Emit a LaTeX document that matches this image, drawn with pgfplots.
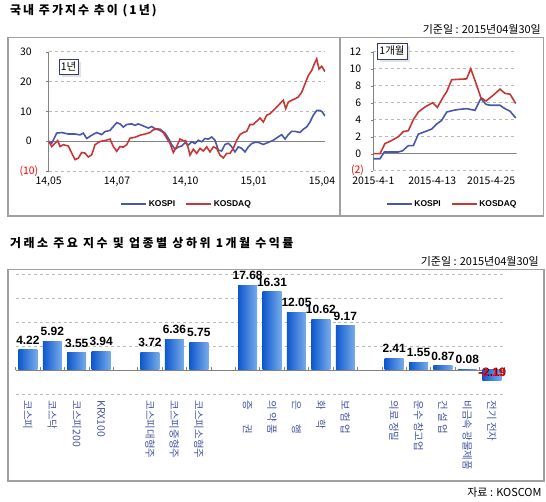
\documentclass[border=0pt]{standalone}
\usepackage{fontspec}
\setmainfont{Noto Sans CJK KR}
\newfontfamily\titlefont[LetterSpace=17]{Noto Sans CJK KR}
\newfontfamily\titlefontb[LetterSpace=21]{Noto Sans CJK KR}
\newfontfamily\lab{Liberation Sans}
\usepackage{pgfplots}
\pgfplotsset{compat=1.18}
\usetikzlibrary{shadows}
\definecolor{kblue}{RGB}{72,88,168}
\definecolor{kred}{RGB}{200,55,55}
\definecolor{boxgray}{RGB}{160,160,160}
\definecolor{gridgray}{RGB}{185,185,185}
\definecolor{axgray}{RGB}{130,130,130}
\definecolor{catblue}{RGB}{70,85,165}
\definecolor{barL}{RGB}{14,88,206}
\definecolor{barR}{RGB}{120,172,234}
\definecolor{navy}{RGB}{50,60,110}
\pgfplotsset{
  lineax/.style={
    scale only axis, anchor=south west,
    /pgf/number format/assume math mode=true,
    tick label style={font=\fontsize{10.5}{12}\selectfont},
    axis lines=left, axis line style={-, draw=axgray, line width=0.9bp},
    x axis line style={draw=none},
    xtick style={draw=none},
    ytick style={draw=axgray},
    major tick length=2.5bp, tick align=outside,
    ymajorgrids, major grid style={dashed, gridgray, line width=0.7bp},
    legend columns=2,
    legend style={draw=none, fill=none, anchor=center,
      font=\lab\bfseries\fontsize{8.5}{10}\selectfont,
      /tikz/every even column/.append style={column sep=8bp}},
    legend image code/.code={\draw[##1] (0bp,0bp) -- (25bp,0bp);},
  },
  mybar/.style={ybar, bar width=19bp, draw=none, left color=barL, right color=barR, forget plot},
}
\begin{document}
\begin{tikzpicture}
\path[use as bounding box, fill=white] (0,0) rectangle (546bp,502bp);
% frames
\draw[boxgray, line width=1.4bp] (8bp,286bp) rectangle (543.5bp,464.7bp);
\draw[boxgray, line width=1.4bp] (340bp,286bp) -- (340bp,464.7bp);
\draw[boxgray, line width=1.4bp] (8bp,21bp) rectangle (544bp,232.7bp);
% titles
\node[anchor=west, inner sep=0pt, font=\titlefont\bfseries\fontsize{12}{14}\selectfont] at (10bp,491bp) {국내 주가지수 추이 (1년)};
\node[anchor=east, inner sep=0pt, font=\fontsize{11}{13}\selectfont] at (541bp,473bp) {기준일 : 2015년04월30일};
\node[anchor=west, inner sep=0pt, font=\titlefontb\bfseries\fontsize{12}{14}\selectfont] at (10bp,259bp) {거래소 주요 지수 및 업종별 상하위 1개월 수익률};
\node[anchor=east, inner sep=0pt, font=\fontsize{11}{13}\selectfont] at (539bp,240.3bp) {기준일 : 2015년04월30일};
\node[anchor=east, inner sep=0pt, font=\fontsize{11}{13}\selectfont] at (541.7bp,9.3bp) {자료 : KOSCOM};

% ---------- 1 year ----------
\begin{axis}[lineax,
  at={(48.7bp,331bp)}, width=276.3bp, height=119.3bp,
  xmin=0, xmax=276.3, ymin=-10, ymax=30,
  xtick={0,68.3,136.6,205,273.3},
  xticklabels={14{,}05,14{,}07,14{,}10,15{,}01,15{,}04},
  ytick={0,10,20,30},
  yticklabel style={xshift=-11bp},
  extra y ticks={-10}, extra y tick labels={(10)},
  extra y tick style={grid=major, yticklabel style={text=red, xshift=6.6bp}},
  legend style={at={(0.499,-0.277)}},
]
\draw[axgray, line width=0.9bp] (axis cs:0,0) -- (axis cs:276.3,0);
\addplot[kblue, line width=1.6bp] coordinates {
(0,0) (3.0,-0.7) (8.0,2.7) (13,2.9) (19.6,2.4) (26.3,2.4) (31.3,2.1) (34.6,2.7)
(38,0.9) (43,2.0) (48,2.9) (53,2.2) (56.3,3.2) (61.3,3.6) (64.6,4.9) (68,6.2)
(71.3,5.8) (74.6,4.7) (78,5.6) (83,5.8) (86.3,5.3) (89.6,5.8) (94.6,5.1) (99.6,4.4)
(103,4.9) (106.3,4.2) (111.3,4.0) (116.3,2.7) (119.6,1.0) (123,-1.2) (126.3,-2.7)
(129.6,-2.0) (133,-1.6) (136.3,-0.5) (139.6,-1.3) (143,-0.2) (146.3,-0.8) (149.6,0.3)
(153,-0.2) (156.3,0.9) (159.6,0.7) (163,1.4) (166.3,0.3) (169.6,-3.0) (173,-3.3)
(176.3,-1.1) (179.6,-0.7) (183,-1.9) (186.3,-3.6) (189.6,-1.9) (193,-2.4) (196.3,-3.6)
(199.6,-1.9) (203,-0.8) (206.3,-0.4) (209.6,-0.4) (214.6,-1.1) (219.6,-0.4) (224.6,0.3)
(228,1.1) (233,2.2) (236.3,0.7) (239.6,2.2) (243,3.3) (246.3,3.3) (251.3,2.9)
(254.6,4.0) (258,4.8) (261.3,6.4) (264.6,8.7) (268,10.3) (271.3,10.3) (273.6,9.8) (276.3,8.4)
};
\addlegendentry{KOSPI}
\addplot[kred, line width=1.6bp] coordinates {
(0,0) (3.0,-1.8) (6.3,-0.7) (9,0.2) (11.3,-1.8) (14.6,-1.2) (19.6,-1.6) (23,-4.0)
(26.3,-6.2) (29.6,-5.7) (33,-3.8) (36.3,-4.0) (39.6,-5.3) (43,-4.6) (46.3,-1.2)
(51.3,-0.1) (56.3,0.2) (61.3,0.7) (64.6,-1.8) (68,-3.4) (71.3,-1.8) (74.6,-2.0)
(78,-1.2) (81.3,1.0) (86.3,1.3) (91.3,2.0) (96.3,2.4) (101.3,2.9) (104.6,3.8)
(108,4.0) (111.3,3.6) (114.6,2.9) (118,1.0) (121.3,-0.7) (124.6,-3.8) (128,-1.8)
(131.3,0.7) (134.6,0.2) (137,0.2) (139.6,-2.4) (141.3,-4.7) (144.6,-2.7) (148,-4.1)
(151.3,-2.4) (154.6,-3.3) (158,-1.9) (161.3,-3.6) (164.6,-1.9) (168,-2.4) (171.3,-4.7)
(174.6,-5.6) (178,-4.1) (181.3,-4.1) (184.6,-2.4) (188,0.3) (191.3,2.2) (194.6,2.9)
(198,3.3) (201.3,5.6) (204.6,5.6) (208,6.7) (211.3,7.8) (214.6,6.4) (218,8.7)
(221.3,9.2) (224.6,10.3) (228,11.4) (231.3,12.6) (234.6,13.7) (237,10.9) (239.6,13.1)
(243,13.7) (246.3,14.2) (249.6,14.8) (253,16.4) (256.3,19.2) (259.6,22.0) (263,23.7)
(265.6,25.9) (268,27.6) (270.3,24.2) (273,25.1) (276.3,23.3)
};
\addlegendentry{KOSDAQ}
\end{axis}
\node[draw=navy, fill=white, line width=0.9bp, inner sep=1bp, minimum width=19bp, minimum height=15bp,
  font=\fontsize{10.5}{12}\selectfont,
  drop shadow={shadow xshift=3bp, shadow yshift=-3bp, fill=black!22}] at (68.5bp,435.5bp) {1년};

% ---------- 1 month ----------
\begin{axis}[lineax,
  at={(373.3bp,331.3bp)}, width=143.4bp, height=119bp,
  xmin=0, xmax=29.2, ymin=-2, ymax=12,
  xtick={0,12,24},
  xticklabels={2015-4-1,2015-4-13,2015-4-25},
  ytick={0,2,4,6,8,10,12},
  yticklabel style={xshift=-6bp},
  extra y ticks={-2}, extra y tick labels={(2)},
  extra y tick style={grid=major, yticklabel style={text=red, xshift=2.6bp}},
  legend style={at={(0.55,-0.28)}},
]
\draw[axgray, line width=0.9bp] (axis cs:0,0) -- (axis cs:29.2,0);
\addplot[kblue, line width=1.6bp] coordinates {
(0,-0.6) (1.36,-0.6) (2.24,0.2) (3.06,0.2) (5.1,0.2) (5.98,0.35) (7.13,0.95) (8.15,0.95)
(9.17,2.3) (10.53,2.6) (11.89,2.9) (12.9,3.5) (13.9,3.9) (14.95,4.9) (16.3,5.1)
(17.3,5.2) (19.0,5.3) (20.7,5.1) (21.9,6.5) (22.96,5.8) (23.8,5.7) (25.8,5.7)
(26.8,5.3) (27.85,5.0) (29,4.2)
};
\addlegendentry{KOSPI}
\addplot[kred, line width=1.6bp] coordinates {
(0,0) (1.36,0) (2.38,1.2) (3.4,1.45) (5.1,2.0) (6.1,2.6) (7.13,2.7) (8.15,4.0)
(9.17,4.9) (10.53,5.5) (12.1,6.0) (13.04,5.45) (14.27,6.7) (14.95,7.3) (15.96,8.7)
(17.3,8.75) (19.0,8.8) (19.84,10.0) (20.9,8.3) (21.9,6.6) (22.96,6.2) (24.46,6.9)
(25.8,7.6) (26.8,7.1) (27.85,7.0) (29,5.9)
};
\addlegendentry{KOSDAQ}
\end{axis}
\node[draw=navy, fill=white, line width=0.9bp, inner sep=1bp, minimum width=30bp, minimum height=16bp,
  font=\fontsize{10.5}{12}\selectfont,
  drop shadow={shadow xshift=3bp, shadow yshift=-3bp, fill=black!22}] at (392bp,451bp) {1개월};

% ---------- bars ----------
\begin{axis}[
  scale only axis, anchor=south west,
  at={(15.7bp,108bp)}, width=488.3bp, height=120bp,
  xmin=-0.5, xmax=19.5, ymin=-5, ymax=20,
  axis line style={draw=none}, tick style={draw=none},
  ytick={-5,0,5,10,15,20}, yticklabels={},
  ymajorgrids, major grid style={dashed, gridgray, line width=0.7bp},
  xtick={0,...,19},
  xticklabels={코스피,코스닥,코스피200,KRX100,,코스피대형주,코스피중형주,코스피소형주,,
    증\hspace{1.4em}권,의 약 품,은\hspace{1.4em}행,화\hspace{0.9em}학,보 험 업,,
    의료 정밀,운수 창고업,건 설 업,비금속 광물제품,전기 전자},
  xticklabel style={rotate=-90, anchor=west, text=catblue, font=\fontsize{10.5}{12}\selectfont, xshift=3bp},
  clip=false,
]
\draw[axgray, line width=0.9bp] (axis cs:-0.5,0) -- (axis cs:19.5,0);
\pgfplotsinvokeforeach{-0.5,0.5,1.5,2.5,3.5,4.5,5.5,6.5,7.5,8.5,9.5,10.5,11.5,12.5,13.5,14.5,15.5,16.5,17.5,18.5,19.5}{
  \draw[axgray, line width=0.8bp] (axis cs:#1,0) -- ++(0bp,3.3bp);
}
\addplot[mybar] coordinates {(0,4.22)};
\addplot[mybar] coordinates {(1,5.92)};
\addplot[mybar] coordinates {(2,3.55)};
\addplot[mybar] coordinates {(3,3.94)};
\addplot[mybar] coordinates {(5,3.72)};
\addplot[mybar] coordinates {(6,6.36)};
\addplot[mybar] coordinates {(7,5.75)};
\addplot[mybar] coordinates {(9,17.68)};
\addplot[mybar] coordinates {(10,16.31)};
\addplot[mybar] coordinates {(11,12.05)};
\addplot[mybar] coordinates {(12,10.62)};
\addplot[mybar] coordinates {(13,9.17)};
\addplot[mybar] coordinates {(15,2.41)};
\addplot[mybar] coordinates {(16,1.55)};
\addplot[mybar] coordinates {(17,0.87)};
\addplot[mybar] coordinates {(18,0.08)};
\addplot[mybar] coordinates {(19,-2.19)};
\addplot[only marks, mark=none, point meta=explicit symbolic, nodes near coords,
  nodes near coords style={font=\lab\bfseries\fontsize{12}{14}\selectfont, anchor=south, yshift=2bp, text=black}]
coordinates {
(0,4.22)[4.22] (1,5.92)[5.92] (2,3.55)[3.55] (3,3.94)[3.94] (5,3.72)[3.72] (6,6.36)[6.36] (7,5.75)[5.75]
(9,17.68)[17.68] (10,16.31)[16.31] (11,12.05)[12.05] (12,10.62)[10.62] (13,9.17)[9.17]
(15,2.41)[2.41] (16,1.55)[1.55] (17,0.87)[0.87] (18,0.08)[0.08]
};
\addplot[only marks, mark=none, point meta=explicit symbolic, nodes near coords,
  nodes near coords style={font=\lab\bfseries\fontsize{12}{14}\selectfont, anchor=center, xshift=0.7bp, yshift=-2.7bp, text=black}]
coordinates {(19,0)[-2.19]};
\addplot[only marks, mark=none, point meta=explicit symbolic, nodes near coords,
  nodes near coords style={font=\lab\bfseries\fontsize{12}{14}\selectfont, anchor=center, yshift=-2bp, text=red}]
coordinates {(19,0)[-2.19]};
\end{axis}
\end{tikzpicture}
\end{document}
